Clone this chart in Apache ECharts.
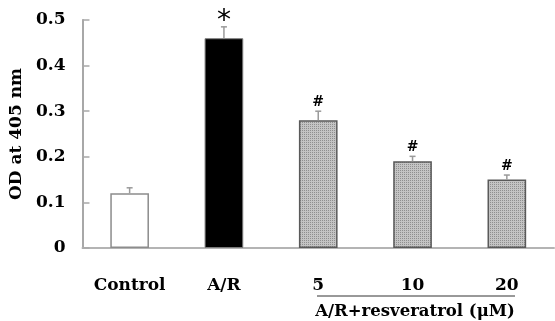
<!DOCTYPE html>
<html>
<head>
<meta charset="utf-8">
<script src="https://cdn.jsdelivr.net/npm/echarts@6/dist/echarts.min.js"></script>
<style>html,body{margin:0;padding:0;background:#fff}#c{width:555px;height:321px}</style>
</head>
<body>
<div id="c"></div>
<script>
const categories = ['Control', 'A/R', '5', '10', '20'];
const odValues = [0.12, 0.46, 0.28, 0.19, 0.15];
const errValues = [0.012, 0.025, 0.02, 0.011, 0.01];
const marks = ['', '*', '#', '#', '#'];
const yTicks = [0, 0.1, 0.2, 0.3, 0.4, 0.5];
const groupLabel = 'A/R+resveratrol (μM)';
const yName = 'OD at 405 nm';

const FONT = '"DejaVu Serif", "Liberation Serif", serif';

// fine dotted texture for resveratrol bars
const pc = document.createElement('canvas');
pc.width = 2; pc.height = 2;
const pctx = pc.getContext('2d');
pctx.fillStyle = '#c4c4c4'; pctx.fillRect(0, 0, 2, 2);
pctx.fillStyle = '#8f8f8f'; pctx.fillRect(0, 0, 1, 1);

const barStyles = [
  { color: '#ffffff', borderColor: '#8c8c8c', borderWidth: 1.5 },
  { color: '#000000', borderColor: '#7a7a7a', borderWidth: 1 },
  { color: { image: pc, repeat: 'repeat' }, borderColor: '#5a5a5a', borderWidth: 1.5 },
  { color: { image: pc, repeat: 'repeat' }, borderColor: '#5a5a5a', borderWidth: 1.5 },
  { color: { image: pc, repeat: 'repeat' }, borderColor: '#5a5a5a', borderWidth: 1.5 }
];

const chart = echarts.init(document.getElementById('c'), null, { renderer: 'canvas' });

chart.setOption({
  animation: false,
  grid: { left: 82, right: 1, top: 20, bottom: 73, containLabel: false },
  xAxis: {
    type: 'category',
    data: categories,
    axisLine: { lineStyle: { color: '#b4b4b4', width: 2 } },
    axisTick: { inside: true, length: 5, lineStyle: { color: '#9a9a9a', width: 1 } },
    axisLabel: { color: '#000', fontFamily: FONT, fontWeight: 'bold', fontSize: 17, margin: 29 }
  },
  yAxis: {
    type: 'value',
    min: 0, max: 0.5, interval: 0.1,
    name: yName,
    nameLocation: 'middle',
    nameGap: 57,
    nameRotate: 90,
    nameTextStyle: { color: '#000', fontFamily: FONT, fontWeight: 'bold', fontSize: 17 },
    splitLine: { show: false },
    axisLine: { show: true, lineStyle: { color: '#a8a8a8', width: 2 } },
    axisTick: { show: true, inside: true, length: 7, lineStyle: { color: '#a8a8a8', width: 1.5 } },
    axisLabel: {
      color: '#000', fontFamily: FONT, fontWeight: 'bold', fontSize: 17, margin: 17,
      formatter: v => {
        const t = yTicks.find(k => Math.abs(k - v) < 1e-9);
        return t === undefined ? '' : String(t);
      }
    }
  },
  series: [
    {
      type: 'bar',
      barWidth: '41%',
      data: odValues.map((v, i) => ({ value: v, itemStyle: barStyles[i] })),
      z: 2
    },
    {
      type: 'custom',
      z: 3,
      data: odValues.map((v, i) => [i, v, errValues[i]]),
      renderItem: function (params, api) {
        const x = api.value(0), v = api.value(1), e = api.value(2);
        const p0 = api.coord([x, v]);
        const p1 = api.coord([x, v + e]);
        const style = { stroke: '#9a9a9a', lineWidth: 1.5 };
        const children = [
          { type: 'line', shape: { x1: p0[0], y1: p0[1], x2: p1[0], y2: p1[1] }, style },
          { type: 'line', shape: { x1: p1[0] - 3, y1: p1[1], x2: p1[0] + 3, y2: p1[1] }, style }
        ];
        const m = marks[params.dataIndex];
        if (m) {
          const big = m === '*';
          children.push({
            type: 'text',
            style: big ? {
              text: m, x: p1[0], y: p1[1] - 19,
              align: 'center', verticalAlign: 'top',
              fontFamily: '"DejaVu Sans", sans-serif',
              fontSize: 28, fill: '#000'
            } : {
              text: m, x: p1[0], y: p1[1] - 2,
              align: 'center', verticalAlign: 'bottom',
              fontFamily: FONT, fontWeight: 'bold',
              fontSize: 14, fill: '#000'
            }
          });
        }
        return { type: 'group', children };
      }
    }
  ],
  graphic: [
    { type: 'line', shape: { x1: 317, y1: 296, x2: 515, y2: 296 }, style: { stroke: '#333', lineWidth: 1 } },
    { type: 'text', x: 415, y: 312, style: { text: groupLabel, align: 'center', verticalAlign: 'middle', fontFamily: FONT, fontWeight: 'bold', fontSize: 16.5, fill: '#000' } }
  ]
});
</script>
</body>
</html>
